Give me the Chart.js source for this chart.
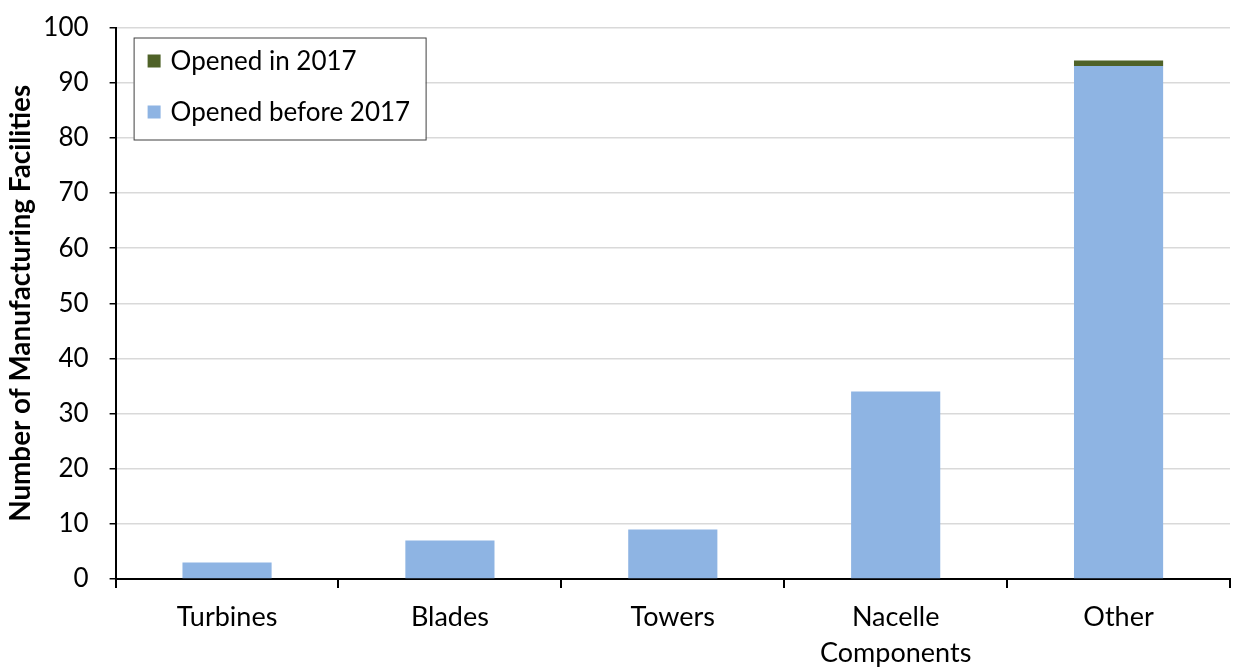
<!DOCTYPE html>
<html><head><meta charset="utf-8">
<script src="https://cdn.jsdelivr.net/npm/chart.js@4/dist/chart.umd.min.js"></script>
<style>html,body{margin:0;padding:0;background:#fff}#wrap{width:1233px;height:667px;position:relative}</style>
</head><body><div id="wrap"><canvas id="c" width="1233" height="667"></canvas></div>
<script>
const categories = ["Turbines", "Blades", "Towers", ["Nacelle", "Components"], "Other"];
const openedBefore2017 = [3, 7, 9, 34, 93];
const openedIn2017 = [0, 0, 0, 0, 1];
const yTicks = [0, 10, 20, 30, 40, 50, 60, 70, 80, 90, 100];
const FONT = "Lato";

const legendInside = {
  id: 'legendInside',
  afterDraw(chart) {
    const ctx = chart.ctx;
    const a = chart.chartArea;
    const x0 = a.left + 18, y0 = a.top + 10, w = 292, h = 102;
    ctx.save();
    ctx.fillStyle = '#fff';
    ctx.fillRect(x0, y0, w, h);
    ctx.strokeStyle = '#404040';
    ctx.lineWidth = 1;
    ctx.strokeRect(x0 + 0.5, y0 + 0.5, w, h);
    const items = chart.data.datasets.slice().reverse();
    ctx.font = '26px ' + FONT;
    ctx.textBaseline = 'middle';
    items.forEach((ds, i) => {
      const cy = y0 + 24 + i * 51;
      ctx.fillStyle = ds.backgroundColor;
      ctx.fillRect(x0 + 14, cy - 7, 13, 13);
      ctx.fillStyle = '#000';
      ctx.fillText(ds.label, x0 + 37, cy);
    });
    ctx.restore();
  }
};

new Chart(document.getElementById('c'), {
  type: 'bar',
  data: {
    labels: categories,
    datasets: [
      { label: 'Opened before 2017', data: openedBefore2017, backgroundColor: '#8EB4E3', barPercentage: 0.4, categoryPercentage: 1 },
      { label: 'Opened in 2017', data: openedIn2017, backgroundColor: '#4F6228', barPercentage: 0.4, categoryPercentage: 1 }
    ]
  },
  options: {
    responsive: false,
    animation: false,
    layout: { padding: { top: 20, right: 3, left: 4, bottom: -16 } },
    plugins: { legend: { display: false }, tooltip: { enabled: false } },
    scales: {
      x: {
        stacked: true,
        grid: { display: true, offset: true, drawOnChartArea: false, color: '#000', tickColor: '#000', tickLength: 9, lineWidth: 2 },
        border: { color: '#000', width: 2 },
        ticks: { color: '#000', font: { family: FONT, size: 27, lineHeight: 1.35 }, padding: 11, maxRotation: 0 }
      },
      y: {
        stacked: true,
        min: 0, max: 100,
        afterBuildTicks(scale) { scale.ticks = yTicks.map(v => ({ value: v })); },
        grid: { color: '#D9D9D9', tickColor: '#000', tickLength: 6, lineWidth: 1.5 },
        border: { color: '#000', width: 2 },
        ticks: { color: '#000', font: { family: FONT, size: 26, lineHeight: 0.5 }, padding: 21 },
        title: { display: true, text: 'Number of Manufacturing Facilities', color: '#000', font: { family: FONT, size: 27.8, weight: 'bold' }, padding: { top: 0, bottom: -15 } }
      }
    }
  },
  plugins: [legendInside]
});
</script></body></html>
